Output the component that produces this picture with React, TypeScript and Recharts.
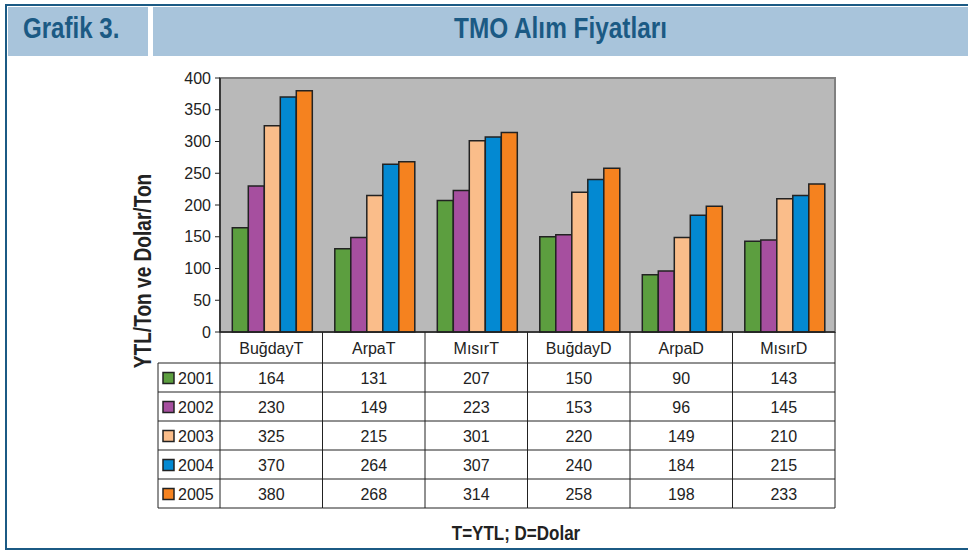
import { BarChart, Bar, XAxis, YAxis, CartesianGrid, ReferenceArea } from 'recharts';

const categories = ['BuğdayT', 'ArpaT', 'MısırT', 'BuğdayD', 'ArpaD', 'MısırD'];
const years = ['2001', '2002', '2003', '2004', '2005'];
const v2001 = [164, 131, 207, 150, 90, 143];
const v2002 = [230, 149, 223, 153, 96, 145];
const v2003 = [325, 215, 301, 220, 149, 210];
const v2004 = [370, 264, 307, 240, 184, 215];
const v2005 = [380, 268, 314, 258, 198, 233];
const yTicks = [0, 50, 100, 150, 200, 250, 300, 350, 400];

const seriesValues = [v2001, v2002, v2003, v2004, v2005];
const yearColors = ['#5c9e3f', '#a64f9f', '#fabd8a', '#0389d2', '#f5821f'];

const data = categories.map((name, i) => {
    const row: Record<string, string | number> = { name };
    years.forEach((yr, s) => {
        row['y' + yr] = seriesValues[s][i];
    });
    return row;
});

const W = 968;
const H = 553;
const margin = { top: 78, right: 133, bottom: 45, left: 120 };
const Y_W = 100;
const X_H = 176;
const PLOT_W = W - margin.left - Y_W - margin.right;
const COL_W = PLOT_W / categories.length;
const HEAD_H = 31;
const ROW_H = 29;
const LEG_W = 62;

const ink = '#222';
const navy = '#1b5a84';
const paleBlue = '#a8c4db';
const bold = "'Liberation Sans', Arial, sans-serif";
const plain = "'Liberation Sans', Arial, sans-serif";

const TableTick = (props: any) => {
    const { x, y, index, payload } = props;
    const i = index ?? payload.index;
    const l = x - COL_W / 2;
    const r = x + COL_W / 2;
    const bottom = y + HEAD_H + ROW_H * years.length;
    const rowLines = years.map((_, k) => y + HEAD_H + ROW_H * k);

    return (
        <g>
            {i === 0 && <line x1={l} y1={y} x2={l} y2={bottom} stroke={ink} strokeWidth={1} />}
            <line x1={r} y1={y} x2={r} y2={bottom} stroke={ink} strokeWidth={1} />
            {rowLines.map((ly, k) => (
                <line key={`h-${k}`} x1={i === 0 ? l - LEG_W : l} y1={ly} x2={r} y2={ly} stroke={ink} strokeWidth={1} />
            ))}
            <line x1={i === 0 ? l - LEG_W : l} y1={bottom} x2={r} y2={bottom} stroke={ink} strokeWidth={1} />
            <text x={x} y={y + HEAD_H / 2 + 6} textAnchor="middle" fontSize={16} fontFamily={plain} fill={ink}>
                {payload.value}
            </text>
            {years.map((yr, k) => (
                <text
                    key={`v-${yr}`}
                    x={x}
                    y={y + HEAD_H + ROW_H * k + ROW_H / 2 + 6}
                    textAnchor="middle"
                    fontSize={16}
                    fontFamily={plain}
                    fill={ink}
                >
                    {seriesValues[k][i]}
                </text>
            ))}
            {i === 0 && (
                <g>
                    <line x1={l - LEG_W} y1={y + HEAD_H} x2={l - LEG_W} y2={bottom} stroke={ink} strokeWidth={1} />
                    {years.map((yr, k) => {
                        const top = y + HEAD_H + ROW_H * k;
                        return (
                            <g key={`leg-${yr}`}>
                                <rect x={l - LEG_W + 5} y={top + ROW_H / 2 - 5} width={11} height={11} fill={yearColors[k]} stroke={ink} strokeWidth={1.5} />
                                <text x={l - LEG_W + 20} y={top + ROW_H / 2 + 6} fontSize={16} fontFamily={plain} fill={ink}>
                                    {yr}
                                </text>
                            </g>
                        );
                    })}
                </g>
            )}
        </g>
    );
};

export default function App() {
    return (
        <div style={{ position: 'absolute', left: 0, top: 0, width: W, height: H, background: '#fff', overflow: 'hidden' }}>
            {/* frame + header */}
            <div style={{ position: 'absolute', left: 5, top: 4, width: W, height: 546, borderLeft: `2px solid ${navy}`, borderTop: `2px solid ${navy}`, borderBottom: `2px solid ${navy}`, boxSizing: 'border-box' }} />
            <div style={{ position: 'absolute', left: 8, top: 7, width: 140, height: 49, background: paleBlue }}>
                <div style={{ position: 'absolute', left: 15, top: 7, lineHeight: '29px', whiteSpace: 'nowrap', fontFamily: bold, fontWeight: 'bold', fontSize: 29, color: navy, transform: 'scaleX(0.83)', transformOrigin: 'left center' }}>Grafik 3.</div>
            </div>
            <div style={{ position: 'absolute', left: 153, top: 7, width: W - 153, height: 49, background: paleBlue, textAlign: 'center' }}>
                <div style={{ position: 'relative', top: 7, lineHeight: '29px', whiteSpace: 'nowrap', fontFamily: bold, fontWeight: 'bold', fontSize: 29, color: navy, transform: 'scaleX(0.84)' }}>TMO Alım Fiyatları</div>
            </div>

            <div style={{ position: 'absolute', left: 0, top: 0 }}>
                <BarChart width={W} height={H} data={data} margin={margin} barCategoryGap="12%" barGap={0}>
                    <CartesianGrid horizontal={false} vertical={false} fill="#b9b9b9" />
                    <ReferenceArea y1={0} y2={400} fill="none" stroke="#808080" strokeWidth={2} />
                    <XAxis
                        dataKey="name"
                        height={X_H}
                        interval={0}
                        tickLine={false}
                        tickSize={0}
                        tickMargin={0}
                        axisLine={{ stroke: ink, strokeWidth: 1.5 }}
                        tick={<TableTick />}
                    />
                    <YAxis
                        width={Y_W}
                        domain={[0, 400]}
                        ticks={yTicks}
                        tickSize={5}
                        tickMargin={4}
                        tickLine={{ stroke: ink }}
                        axisLine={{ stroke: ink, strokeWidth: 1.5 }}
                        tick={{ fill: ink, fontSize: 16, fontFamily: plain }}
                    />
                    {years.map((yr, s) => (
                        <Bar
                            key={yr}
                            dataKey={'y' + yr}
                            name={yr}
                            fill={yearColors[s]}
                            stroke={ink}
                            strokeWidth={1.5}
                            isAnimationActive={false}
                        />
                    ))}
                </BarChart>
            </div>

            <div style={{ position: 'absolute', left: 143, top: 271, transform: 'translate(-50%, -50%) rotate(-90deg) scaleX(0.83)', whiteSpace: 'nowrap', fontFamily: bold, fontWeight: 'bold', fontSize: 23, color: ink }}>
                YTL/Ton ve Dolar/Ton
            </div>
            <div style={{ position: 'absolute', left: 516, top: 533, transform: 'translate(-50%, -50%) scaleX(0.85)', whiteSpace: 'nowrap', fontFamily: bold, fontWeight: 'bold', fontSize: 20, color: ink }}>
                T=YTL; D=Dolar
            </div>
        </div>
    );
}
